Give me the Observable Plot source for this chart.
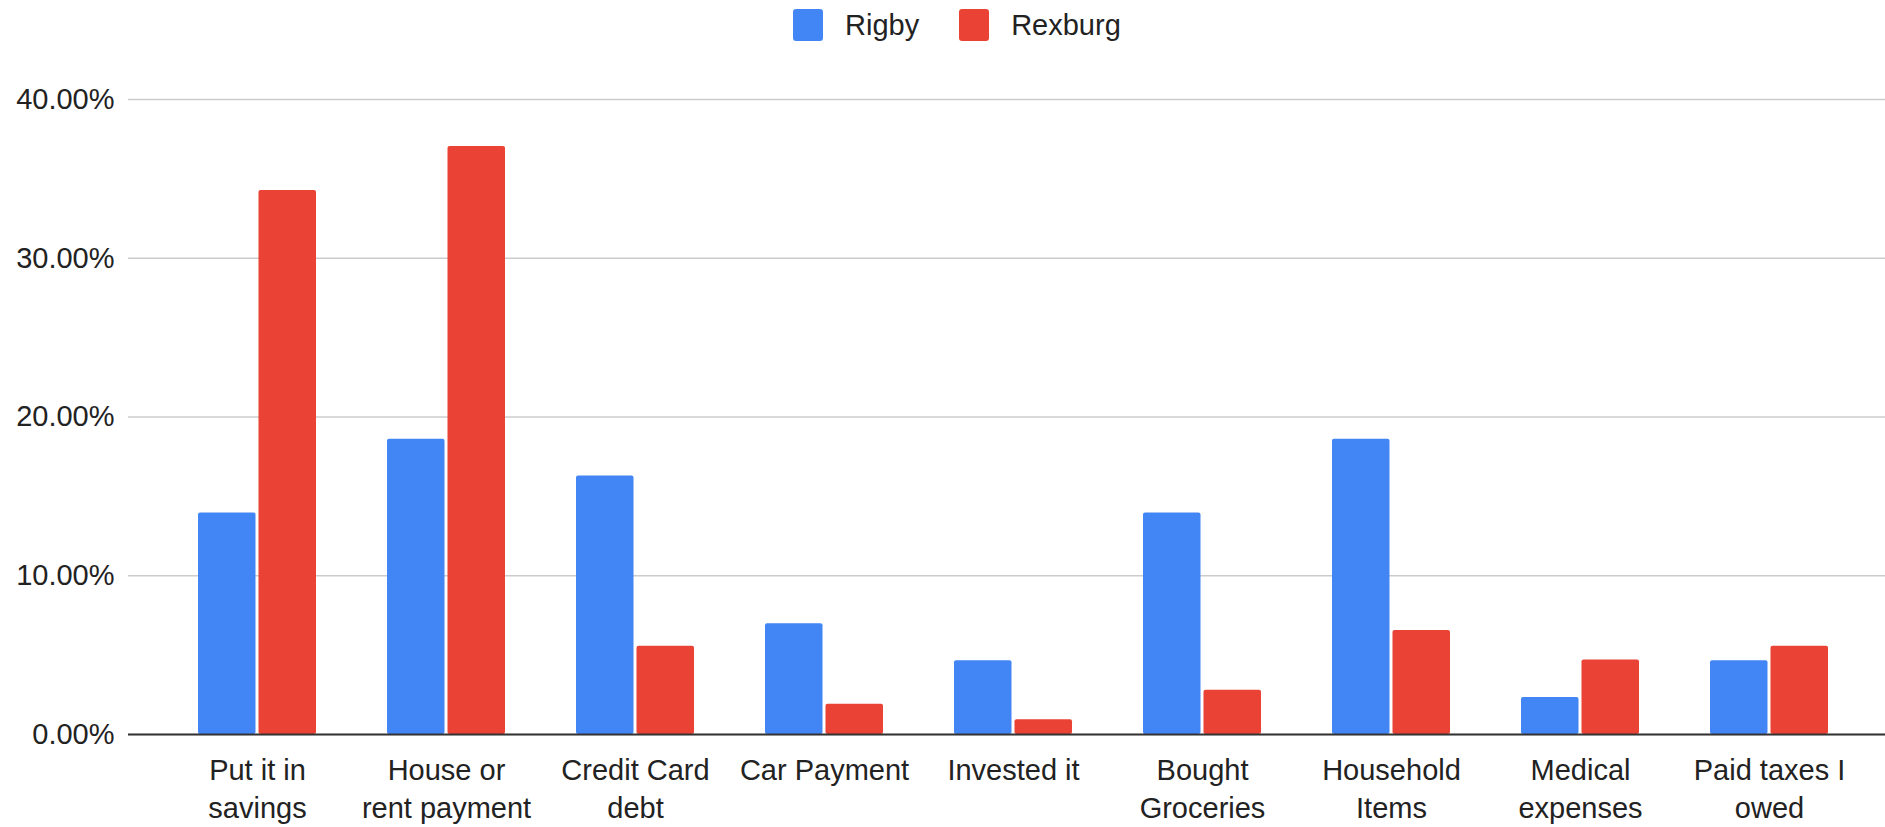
<!DOCTYPE html>
<html>
<head>
<meta charset="utf-8">
<script src="https://cdn.jsdelivr.net/npm/d3@7"></script>
<script src="https://cdn.jsdelivr.net/npm/@observablehq/plot@0.6"></script>
<style>
  html, body { margin: 0; padding: 0; background: #fff; }
  body { width: 1885px; height: 827px; overflow: hidden; font-family: "Liberation Sans", Arial, sans-serif; }
  #legend { height: 50px; display: flex; align-items: center; padding-left: 793px; box-sizing: border-box; font-size: 29px; color: #222; }
  .sw { width: 30px; height: 32px; border-radius: 3px; margin-right: 22px; }
  .lab { margin-right: 40px; }
</style>
</head>
<body>
<div id="legend"></div>
<div id="chart"></div>
<script>
const categories = ["Put it in savings", "House or rent payment", "Credit Card debt", "Car Payment", "Invested it", "Bought Groceries", "Household Items", "Medical expenses", "Paid taxes I owed"];
const tickLabels = ["Put it in\nsavings", "House or\nrent payment", "Credit Card\ndebt", "Car Payment", "Invested it", "Bought\nGroceries", "Household\nItems", "Medical\nexpenses", "Paid taxes I\nowed"];
const seriesNames = ["Rigby", "Rexburg"];
const seriesColors = ["#4285F4", "#EA4335"];
const rigby = [13.95, 18.60, 16.28, 6.98, 4.65, 13.95, 18.60, 2.33, 4.65];
const rexburg = [34.26, 37.04, 5.56, 1.90, 0.93, 2.78, 6.55, 4.70, 5.56];
const yTicks = [0, 10, 20, 30, 40];

const table = categories.map((c, i) => ({category: c, label: tickLabels[i], rigby: rigby[i], rexburg: rexburg[i]}));
const labelOf = new Map(table.map(d => [d.category, d.label]));

// legend
const legend = document.getElementById("legend");
seriesNames.forEach((s, i) => {
  const sw = document.createElement("div");
  sw.className = "sw";
  sw.style.background = seriesColors[i];
  const lab = document.createElement("div");
  lab.className = "lab";
  lab.textContent = s;
  legend.appendChild(sw);
  legend.appendChild(lab);
});

const half = 60.5;
const chart = Plot.plot({
  width: 1885,
  height: 777,
  marginLeft: 128,
  marginRight: 0,
  marginTop: 49,
  marginBottom: 93,
  style: {fontSize: "29px", fontFamily: "'Liberation Sans', Arial, sans-serif", color: "#222", background: "#fff"},
  x: {type: "band", domain: categories, paddingInner: 0.375, paddingOuter: 0.1875, insetLeft: 32, insetRight: 19, label: null},
  y: {domain: [0, 40], label: null},
  marks: [
    Plot.gridY(yTicks, {stroke: "#cccccc", strokeOpacity: 1, strokeWidth: 1.6}),
    Plot.barY(table, {x: "category", y: "rigby", fill: seriesColors[0], insetRight: half, rx: 2}),
    Plot.barY(table, {x: "category", y: "rexburg", fill: seriesColors[1], insetLeft: half, rx: 2}),
    Plot.ruleY([0], {stroke: "#333", strokeWidth: 2.2}),
    Plot.axisY({ticks: yTicks, tickSize: 0, tickPadding: 14, tickFormat: d => d.toFixed(2) + "%", label: null}),
    Plot.axisX({tickSize: 0, tickPadding: 18, tickFormat: d => labelOf.get(d), lineHeight: 1.33, label: null})
  ]
});
document.getElementById("chart").appendChild(chart);
</script>
</body>
</html>
